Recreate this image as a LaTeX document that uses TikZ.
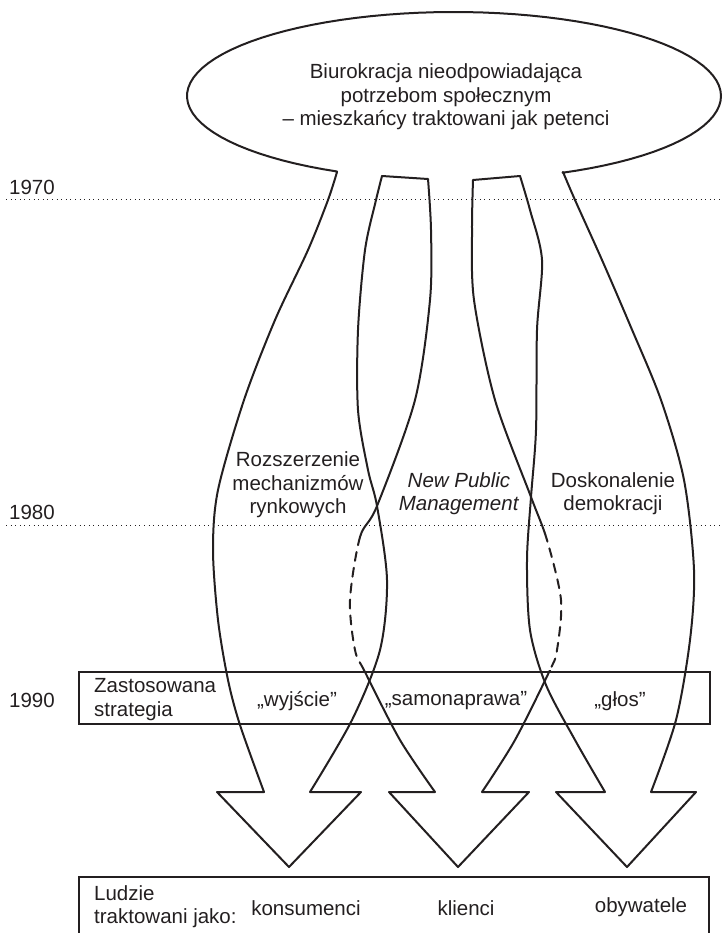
\documentclass[tikz,border=0pt]{standalone}
\usepackage{fontspec}
\setmainfont{Liberation Sans}
\definecolor{Ink}{HTML}{231F20}
\tikzset{edge/.style={draw=Ink,line width=2pt,line join=round,line cap=round},hidden/.style={edge,dash pattern=on 9pt off 7pt},band/.style={draw=Ink,line width=2pt},era/.style={draw=Ink,line width=1pt,dash pattern=on 1pt off 3.6pt},lbl/.style={align=center,inner sep=0pt},side/.style={anchor=west,align=left,inner sep=0pt},year/.style={anchor=west,inner sep=0pt}}
% middle arrow (drawn twice: solid and hidden part)
\newcommand\npmoutline{(382,176) -- (428,179)
  -- plot[smooth] coordinates{(428,179) (431,230) (430,300) (415,400) (377,506) (360,537) (350,600) (355,650) (365,672) (400,740) (435,792)}
  -- (389,792) -- (458,867) -- (529,792) -- (482,792)
  -- plot[smooth] coordinates{(482,792) (515,740) (550,670) (557,650) (561,600) (547,540) (531,497) (495,400) (474,300) (472,230) (473,180)}
  -- (520,176)}

\begin{document}
\begin{tikzpicture}[x=1pt,y=-1pt,every node/.style={font=\fontsize{20.5}{23.5}\selectfont,text=Ink}]
      \useasboundingbox (0,0) rectangle (723,933);
      % time lines
      \draw[era] (6,200) -- (723,200);
      \draw[era] (6,525) -- (723,525);
      \node[year] (y70) at (9,187) {1970};
      \node[year] (y80) at (9,512) {1980};
      \node[year] (y90) at (9,700) {1990};
      % bands
      \draw[band] (79,672) rectangle (710,724);
      \draw[band] (79,933) -- (79,877) -- (709,877) -- (709,933);
      % balloon with left and right arrow
      \draw[edge] plot[smooth] coordinates{(382,176) (376,200) (365,250) (358,330) (358,410) (368,470) (377,506) (387,580) (380,650) (352,720) (310,792)}
        -- (361,792) -- (289,867) -- (217,792) -- (264,792)
        -- plot[smooth] coordinates{(264,792) (240,725) (228,680) (218,620) (213,550) (218,490) (244,400) (275,320) (308,250) (328,200) (337,172)}
        -- plot[domain=116:426,samples=90] ({454+267*cos(\x)},{96+84*sin(\x)})
        -- plot[smooth] coordinates{(563,172) (575,200) (602,260) (630,325) (661,400) (684,480) (694,570) (690,640) (676,720) (651,792)}
        -- (696,792) -- (627,867) -- (556,792) -- (605,792)
        -- plot[smooth] coordinates{(605,792) (575,740) (546,685) (530,630) (527,560) (531,497) (536,430) (537,330) (542,260) (530,210) (520,176)};
      \begin{scope}
        \clip (0,0) rectangle (723,538) (0,670) rectangle (723,933);
        \draw[edge] \npmoutline;
      \end{scope}
      \begin{scope}
        \clip (0,538) rectangle (723,670);
        \draw[hidden] \npmoutline;
      \end{scope}
      % texts
      \node[lbl] (root) at (446,97) {Biurokracja nieodpowiadająca\\potrzebom społecznym\\– mieszkańcy traktowani jak petenci};
      \node[lbl] (market) at (298,485) {Rozszerzenie\\mechanizmów\\rynkowych};
      \node[lbl] (npm) at (459,493.5) {\textit{New Public}\\\textit{Management}};
      \node[lbl] (demo) at (613,493.5) {Doskonalenie\\demokracji};
      \node[side] (strat) at (94,699.5) {Zastosowana\\strategia};
      \node[lbl] (exit) at (297,701) {„wyjście”};
      \node[lbl] (self) at (456,701) {„samonaprawa”};
      \node[lbl] (voice) at (620,701) {„głos”};
      \node[side] (people) at (94,906.5) {Ludzie\\traktowani jako:};
      \node[lbl] (cons) at (306,908) {konsumenci};
      \node[lbl] (cli) at (466,908) {klienci};
      \node[lbl] (cit) at (641,907) {obywatele};
    \end{tikzpicture}
\end{document}
